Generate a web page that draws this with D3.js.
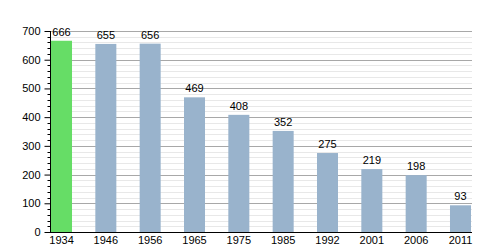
<!DOCTYPE html>
<html>
<head>
<meta charset="utf-8">
<script src="https://cdn.jsdelivr.net/npm/d3@7"></script>
<style>
  body { margin: 0; background: #fff; }
  text { font-family: "Liberation Sans", Arial, sans-serif; font-size: 11px; fill: #000; }
</style>
</head>
<body>
<div id="chart"></div>
<script>
var years = ['1934', '1946', '1956', '1965', '1975', '1985', '1992', '2001', '2006', '2011'];
var population = [666, 655, 656, 469, 408, 352, 275, 219, 198, 93];
var yTicks = [0, 100, 200, 300, 400, 500, 600, 700];

var width = 500,
    height = 250,
    mLeft = 51,
    mRight = 471,
    mTop = 31,
    mBottom = 232;

var svg = d3.select('#chart').append('svg')
    .attr('width', width)
    .attr('height', height);

var xScale = d3.scaleBand()
    .domain(years)
    .range([mLeft, mRight])
    .paddingInner(0.526)
    .paddingOuter(0);

var yScale = d3.scaleLinear()
    .domain([0, 700])
    .range([mBottom, mTop]);

// minor grid every 20, major every 100
var minor = d3.range(20, 701, 20).filter(function(d) { return d % 100; });
svg.append('g').selectAll('line')
    .data(minor)
    .enter().append('line')
    .attr('x1', mLeft).attr('x2', mRight + 1)
    .attr('y1', function(d) { return Math.round(yScale(d)) + 0.5; })
    .attr('y2', function(d) { return Math.round(yScale(d)) + 0.5; })
    .attr('stroke', '#e8e8e8');

svg.append('g').selectAll('line')
    .data(yTicks.slice(1))
    .enter().append('line')
    .attr('x1', mLeft).attr('x2', mRight + 1)
    .attr('y1', function(d) { return Math.round(yScale(d)) + 0.5; })
    .attr('y2', function(d) { return Math.round(yScale(d)) + 0.5; })
    .attr('stroke', '#a8a8a8');

// bars
svg.append('g').selectAll('rect')
    .data(population)
    .enter().append('rect')
    .attr('x', function(d, i) { return xScale(years[i]); })
    .attr('y', function(d) { return yScale(d); })
    .attr('width', xScale.bandwidth())
    .attr('height', function(d) { return mBottom - yScale(d); })
    .attr('fill', function(d, i) { return i === 0 ? '#66dd66' : '#99b3cc'; });

// value labels
svg.append('g').selectAll('text')
    .data(population)
    .enter().append('text')
    .attr('x', function(d, i) { return xScale(years[i]) + xScale.bandwidth()/2; })
    .attr('y', function(d) { return yScale(d) - 5; })
    .attr('text-anchor', 'middle')
    .text(function(d) { return d; });

// y axis with minor ticks
var yAxis = d3.axisLeft(yScale)
    .tickValues(yTicks)
    .tickSize(6)
    .tickPadding(4);
var yy = svg.append('g')
    .attr('transform', 'translate(' + (mLeft - 0.5) + ',0)')
    .call(yAxis);
yy.select('.domain').attr('stroke', '#000').attr('d', 'M0,' + mTop + 'V' + (mBottom + 1));
yy.selectAll('text').style('font-size', '11px');
yy.append('g').selectAll('line')
    .data(minor)
    .enter().append('line')
    .attr('x1', -3).attr('x2', 0)
    .attr('y1', function(d) { return Math.round(yScale(d)) + 0.5; })
    .attr('y2', function(d) { return Math.round(yScale(d)) + 0.5; })
    .attr('stroke', '#000');

// x axis
var xAxis = d3.axisBottom(xScale)
    .tickSize(0)
    .tickPadding(4);
var xx = svg.append('g')
    .attr('transform', 'translate(0,' + (mBottom + 0.5) + ')')
    .call(xAxis);
xx.select('.domain').attr('stroke', '#000').attr('d', 'M' + (mLeft - 0.5) + ',0H' + (mRight + 1));
xx.selectAll('text').style('font-size', '11px');
</script>
</body>
</html>
